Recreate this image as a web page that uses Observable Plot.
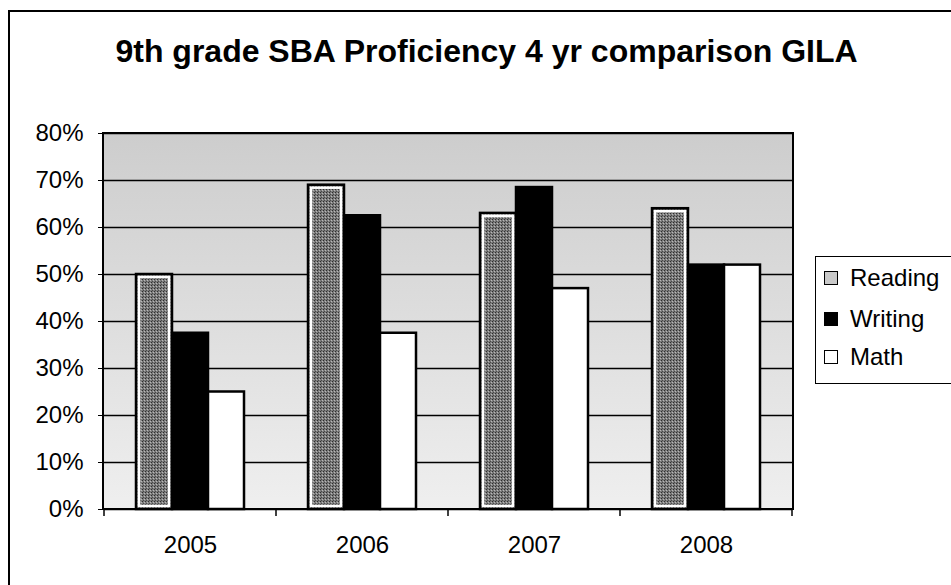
<!DOCTYPE html>
<html>
<head>
<meta charset="utf-8">
<script src="https://cdn.jsdelivr.net/npm/d3@7"></script>
<script src="https://cdn.jsdelivr.net/npm/@observablehq/plot@0.6"></script>
<style>
  body { margin: 0; background: #fff; font-family: Arial, "Liberation Sans", sans-serif; }
  #wrap { position: relative; width: 951px; height: 585px; overflow: hidden; background: #fff; }
  #chart { position: absolute; left: 0; top: 0; }
  #frame { position: absolute; left: 8px; top: 10px; width: 1200px; height: 1200px;
           border-left: 2px solid #000; border-top: 2px solid #000; pointer-events: none; }
  #title { position: absolute; left: 0; top: 35px; width: 973px; text-align: center;
           font-weight: bold; font-size: 32px; line-height: 32px; color: #000; white-space: nowrap; }
  #legend { position: absolute; left: 815px; top: 256px; width: 160px; height: 126px;
            border: 1.5px solid #000; background: #fff; }
  .item { position: absolute; left: 0; font-size: 24px; line-height: 24px; color: #000; white-space: nowrap; }
  .sw { position: absolute; left: 8px; width: 12px; height: 12px; border: 1.5px solid #000; }
  .lab { position: absolute; left: 34px; top: 0; }
</style>
</head>
<body>
<div id="wrap">
  <div id="chart"></div>
  <div id="frame"></div>
  <div id="title">9th grade SBA Proficiency 4 yr comparison GILA</div>
  <div id="legend"></div>
</div>
<script>
const years = ["2005", "2006", "2007", "2008"];
const series = ["Reading", "Writing", "Math"];
const reading = [0.50, 0.69, 0.63, 0.64];
const writing = [0.375, 0.625, 0.685, 0.52];
const math = [0.25, 0.375, 0.47, 0.52];
const seriesFills = ["url(#readFill)", "#000", "#fff"];
const legendSwatch = ["#c9c9c9", "#000", "#fff"];

const values = { Reading: reading, Writing: writing, Math: math };
const data = years.flatMap((yr, i) => series.map(s => ({ year: yr, series: s, value: values[s][i] })));

const W = 951, H = 585, ML = 103, MR = 158, MT = 133, MB = 76;

const plot = Plot.plot({
  width: W, height: H,
  marginTop: MT, marginBottom: MB, marginLeft: ML, marginRight: MR,
  style: { fontFamily: 'Arial, "Liberation Sans", sans-serif', fontSize: "24px", background: "transparent", color: "#000", overflow: "visible" },
  fx: { domain: years, padding: 0, axis: "bottom", label: null, tickSize: 0, tickPadding: 26 },
  x: { domain: series, axis: null, paddingInner: 0, paddingOuter: 0.83 },
  y: { domain: [0, 0.8], ticks: 8, tickFormat: d3.format(".0%"), tickSize: 6, tickPadding: 15, label: null },
  color: { domain: series, range: seriesFills },
  marks: [
    Plot.frame({ fill: "url(#bgGrad)", stroke: "none", insetLeft: -1, insetRight: -1 }),
    Plot.ruleY(d3.ticks(0, 0.8, 8), { stroke: "#000", strokeWidth: 1.5 }),
    Plot.barY(data, { fx: "year", x: "series", y: "value", fill: "series", stroke: "#000", strokeWidth: 2.5 }),
    Plot.barY(data.filter(d => d.series === "Reading"), { fx: "year", x: "series", y: "value", fill: "none", stroke: "#fff", strokeWidth: 2.5, inset: 3 })
  ]
});

const svgEl = plot.tagName.toLowerCase() === "svg" ? plot : plot.querySelector("svg");
const svg = d3.select(svgEl);
const defs = svg.insert("defs", ":first-child");
const g = defs.append("linearGradient").attr("id", "bgGrad").attr("x1", 0).attr("y1", 0).attr("x2", 0).attr("y2", 1);
g.append("stop").attr("offset", "0%").attr("stop-color", "#cdcdcd");
g.append("stop").attr("offset", "45%").attr("stop-color", "#dcdcdc");
g.append("stop").attr("offset", "100%").attr("stop-color", "#efefef");
const p = defs.append("pattern").attr("id", "readFill").attr("patternUnits", "userSpaceOnUse").attr("width", 3).attr("height", 3);
p.append("rect").attr("width", 3).attr("height", 3).attr("fill", "#7c7c7c");
p.append("rect").attr("width", 1).attr("height", 1).attr("fill", "#2e2e2e");
p.append("rect").attr("x", 2).attr("y", 1).attr("width", 1).attr("height", 1).attr("fill", "#b8b8b8");
p.append("rect").attr("x", 1).attr("y", 2).attr("width", 1).attr("height", 1).attr("fill", "#4a4a4a");

// outer plot border and category boundary ticks
const ys = plot.scale("y");
const fxs = plot.scale("fx");
const yTop = ys.apply(0.8), yBot = ys.apply(0);
svg.append("rect").attr("x", ML).attr("y", yTop).attr("width", W - ML - MR).attr("height", yBot - yTop)
  .attr("fill", "none").attr("stroke", "#000").attr("stroke-width", 2);
if (fxs && fxs.apply) {
  const bw = fxs.bandwidth || (W - ML - MR) / years.length;
  const edges = years.map(y => fxs.apply(y)).concat([fxs.apply(years[years.length - 1]) + bw]);
  svg.append("g").selectAll("line").data(edges).join("line")
    .attr("x1", d => d).attr("x2", d => d).attr("y1", yBot).attr("y2", yBot + 7)
    .attr("stroke", "#000").attr("stroke-width", 1.5);
}

document.getElementById("chart").appendChild(plot);

// legend
const leg = d3.select("#legend");
const rowTops = [9, 50, 88];
series.forEach((s, i) => {
  const it = leg.append("div").attr("class", "item").style("top", rowTops[i] + "px");
  it.append("div").attr("class", "sw").style("top", "5px").style("background", legendSwatch[i]);
  it.append("div").attr("class", "lab").text(s);
});
</script>
</body>
</html>
